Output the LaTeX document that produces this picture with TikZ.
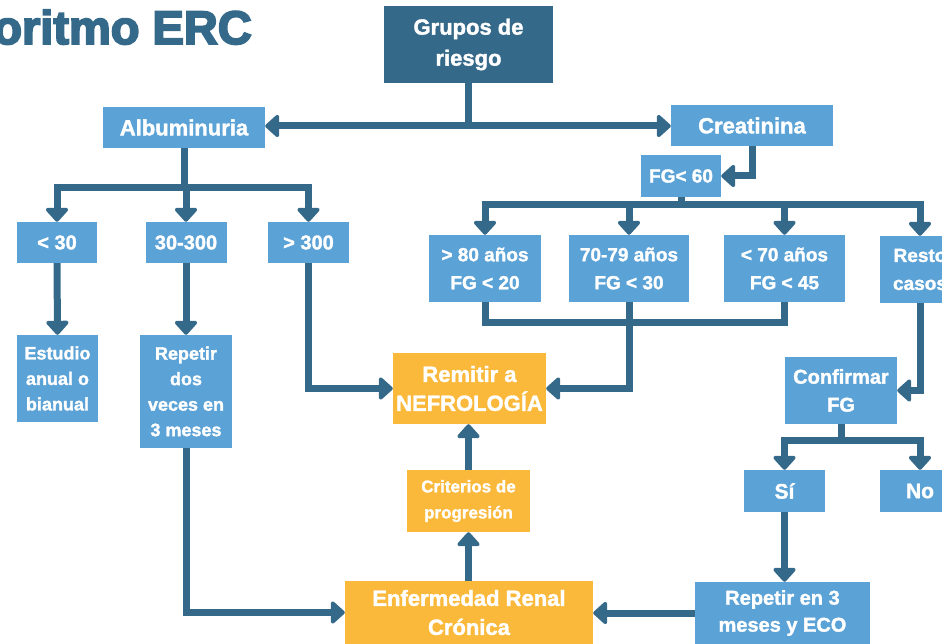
\documentclass[tikz,border=0pt]{standalone}
\usepackage{fontspec}
\setmainfont{Liberation Sans}
\newfontfamily\heavyfont[FakeBold=1.6]{Liberation Sans Bold}
\newfontfamily\titlefont[FakeBold=4]{Liberation Sans Bold}
\usetikzlibrary{arrows.meta}
\definecolor{dkb}{HTML}{35698A}
\definecolor{ltb}{HTML}{5BA2D6}
\definecolor{org}{HTML}{FBB93B}
\newcommand{\fs}[2]{\heavyfont\fontsize{#1}{#2}\selectfont}
\begin{document}
\begin{tikzpicture}[x=1pt,y=-1pt,
  box/.style={fill=ltb, text=white, font=\fs{20}{27}, align=center, inner sep=0pt},
  obox/.style={box, fill=org},
  conn/.style={draw=dkb, line width=7pt},
  arr/.style={conn, -{Triangle[width=26pt,length=15pt,round]}},
]
\useasboundingbox (0,0) rectangle (942,644);
\clip (0,0) rectangle (942,644);

\node[anchor=base east, text=dkb, font=\titlefont\fontsize{47}{47}\selectfont, inner sep=0pt] (title) at (252,44) {Algoritmo ERC};

\node[box, fill=dkb, minimum width=169pt, minimum height=77pt, font=\fs{22}{31}] (grp) at (468.5,44.5) {Grupos de\\riesgo};
\node[box, minimum width=162pt, minimum height=41pt, font=\fs{22}{27}] (alb) at (184,127.5) {Albuminuria};
\node[box, minimum width=162pt, minimum height=41pt, font=\fs{22}{27}] (creat) at (752,125.5) {Creatinina};
\node[box, minimum width=80pt, minimum height=42pt, font=\fs{19}{27}] (fg60) at (681,176) {FG< 60};
\node[box, minimum width=80pt, minimum height=41pt] (lt30) at (57,242.5) {< 30};
\node[box, minimum width=81pt, minimum height=41pt] (m300) at (186,242.5) {30-300};
\node[box, minimum width=81pt, minimum height=41pt] (gt300) at (308.5,242.5) {> 300};
\node[box, minimum width=112pt, minimum height=67pt, font=\fs{19}{28}] (a80) at (485,268.5) {> 80 años\\FG < 20};
\node[box, minimum width=120pt, minimum height=67pt, font=\fs{19}{28}] (a70) at (629,268.5) {70-79 años\\FG < 30};
\node[box, minimum width=121pt, minimum height=67pt, font=\fs{19}{28}] (a45) at (784.5,268.5) {< 70 años\\FG < 45};
\node[box, minimum width=80pt, minimum height=67pt, font=\fs{19}{28}] (resto) at (920,269.5) {Resto\\casos};
\node[box, minimum width=81pt, minimum height=87pt, font=\fs{18}{25.5}] (est) at (57.5,378.5) {Estudio\\anual o\\bianual};
\node[box, minimum width=92pt, minimum height=113pt, font=\fs{18}{25.5}] (rep) at (186,391.5) {Repetir\\dos\\veces en\\3 meses};
\node[obox, minimum width=153pt, minimum height=71pt, font=\fs{22}{29}] (rem) at (469.5,388.5) {Remitir a\\NEFROLOGÍA};
\node[box, minimum width=112pt, minimum height=67pt, font=\fs{20}{28}] (conf) at (841,390.5) {Confirmar\\FG};
\node[box, minimum width=81pt, minimum height=42pt, font=\fs{21}{27}] (si) at (784.5,491) {Sí};
\node[box, minimum width=80pt, minimum height=42pt, font=\fs{21}{27}] (no) at (920,491) {No};
\node[obox, minimum width=123pt, minimum height=62pt, font=\fs{17}{26}] (crit) at (468.5,501) {Criterios de\\progresión};
\node[obox, minimum width=248pt, minimum height=63pt, font=\fs{22}{29}] (erc) at (469,612.5) {Enfermedad Renal\\Crónica};
\node[box, minimum width=175pt, minimum height=62pt, font=\fs{20}{27}] (rep3) at (782.5,613) {Repetir en 3\\meses y ECO};

% Grupos de riesgo
\coordinate (g1) at (468.5,126);
\draw[conn] (grp.south) -- (g1);
\draw[arr] (g1) -- (g1 -| alb.east);
\draw[arr] (g1) -- (g1 -| creat.west);
% Albuminuria
\coordinate (ab) at (184,188);
\draw[conn] (alb.south) -- (ab);
\draw[arr] (ab) -| (lt30.north);
\draw[arr] (ab) -| (m300.north);
\draw[arr] (ab) -| (gt300.north);
% Creatinina
\draw[arr] (creat.south) |- (fg60.east);
\coordinate (fb) at (681,205);
\draw[conn] (fg60.south) -- (fb);
\draw[arr] (fb) -| (a80.north);
\draw[arr] (fb) -| (a70.north);
\draw[arr] (fb) -| (a45.north);
\draw[arr] (fb) -| (resto.north);
% Albuminuria branches
\draw[arr] (lt30.south) -- (est.north);
\draw[arr] (m300.south) -- (rep.north);
\draw[arr] (gt300.south) |- (rem.west);
% age boxes
\coordinate (ag) at (629,322);
\draw[conn] (a80.south) |- (ag);
\draw[conn] (a45.south) |- (ag);
\draw[arr] (a70.south) -- (ag) |- (rem.east);
% resto
\draw[arr] (resto.south) |- (conf.east);
\coordinate (cb) at (841,440);
\draw[conn] (conf.south) -- (cb);
\draw[arr] (cb) -| (si.north);
\draw[arr] (cb) -| (no.north);
\draw[arr] (si.south) -- (si.south |- rep3.north);
\draw[arr] (rep3.west) -- (rep3.west -| erc.east);
\draw[arr] (rep.south) |- (erc.west);
\draw[arr] (erc.north -| crit.south) -- (crit.south);
\draw[arr] (crit.north) -- (rem.south -| crit.north);
\end{tikzpicture}
\end{document}
